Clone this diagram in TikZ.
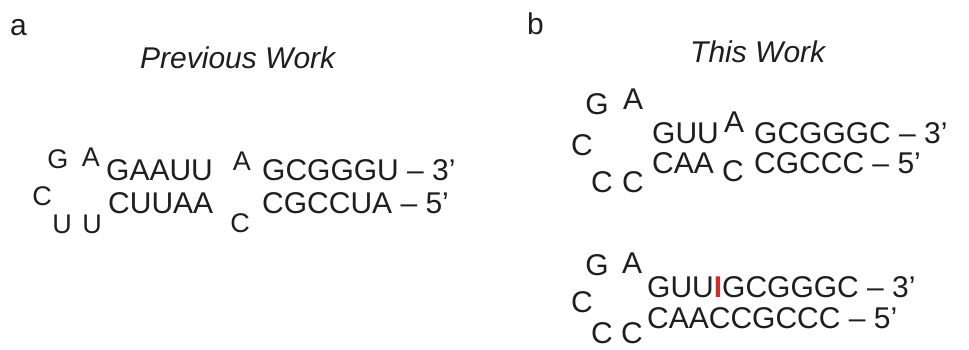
\documentclass[tikz,border=0pt]{standalone}
\usepackage{fontspec}
\setmainfont{Liberation Sans}
\newcommand\seqsize{\fontsize{30}{36}\selectfont}
\newcommand\loopsizeA{\fontsize{27}{32}\selectfont}
\newcommand\loopsizeB{\fontsize{30}{36}\selectfont}
\definecolor{ink}{HTML}{1E1E1E}
\definecolor{redI}{HTML}{D42A2A}
\tikzset{
  seq/.style={font=\seqsize, anchor=base west, inner sep=0pt, text=ink},
  lpa/.style={font=\loopsizeA, anchor=base, inner sep=0pt, text=ink},
  lpb/.style={font=\loopsizeB, anchor=base, inner sep=0pt, text=ink},
  panel/.style={font=\seqsize, anchor=base west, inner sep=0pt, text=ink},
  heading/.style={font=\seqsize\itshape, anchor=base west, inner sep=0pt, text=ink}
}
\begin{document}
\begin{tikzpicture}[x=1pt,y=-1pt]
\useasboundingbox (0,0) rectangle (969,350);
% panel a
\node[panel] (la) at (10,36) {a};
\node[heading] (ta) at (140,69) {Previous Work};
\node[lpa] (aG) at (58,168) {G};
\node[lpa] (aA) at (91,166) {A};
\node[seq] (aTop1) at (106,180) {GAAUU};
\node[lpa] (aA2) at (242,170) {A};
\node[seq] (aTop2) at (262,180) {GCGGGU – 3’};
\node[lpa] (aC) at (42,205) {C};
\node[lpa] (aU1) at (62,233) {U};
\node[lpa] (aU2) at (92,233) {U};
\node[seq] (aBot1) at (108,213) {CUUAA};
\node[lpa] (aC2) at (240,232) {C};
\node[seq] (aBot2) at (262,213) {CGCCUA – 5’};
% panel b
\node[panel] (lb) at (527,35) {b};
\node[heading] (tb) at (690,63) {This Work};
% upper hairpin
\node[lpb] (bG) at (597,115) {G};
\node[lpb] (bA) at (633,110) {A};
\node[lpb] (bC) at (582,155) {C};
\node[lpb] (bC1) at (602,192) {C};
\node[lpb] (bC2) at (633,192) {C};
\node[seq] (bTop1) at (652,143) {GUU};
\node[lpb] (bA2) at (734,132) {A};
\node[seq] (bTop2) at (754,143) {GCGGGC – 3’};
\node[seq] (bBot1) at (652,173) {CAA};
\node[lpb] (bC3) at (733,182) {C};
\node[seq] (bBot2) at (754,173) {CGCCC – 5’};
% lower hairpin
\node[lpb] (cG) at (597,275) {G};
\node[lpb] (cA) at (632,273) {A};
\node[lpb] (cC) at (582,312) {C};
\node[lpb] (cC1) at (602,343) {C};
\node[lpb] (cC2) at (632,343) {C};
\node[seq] (cTop) at (647,297) {GUU{\color{redI}\bfseries I}GCGGGC – 3’};
\node[seq] (cBot) at (647,328) {CAACCGCCC – 5’};
\end{tikzpicture}
\end{document}
